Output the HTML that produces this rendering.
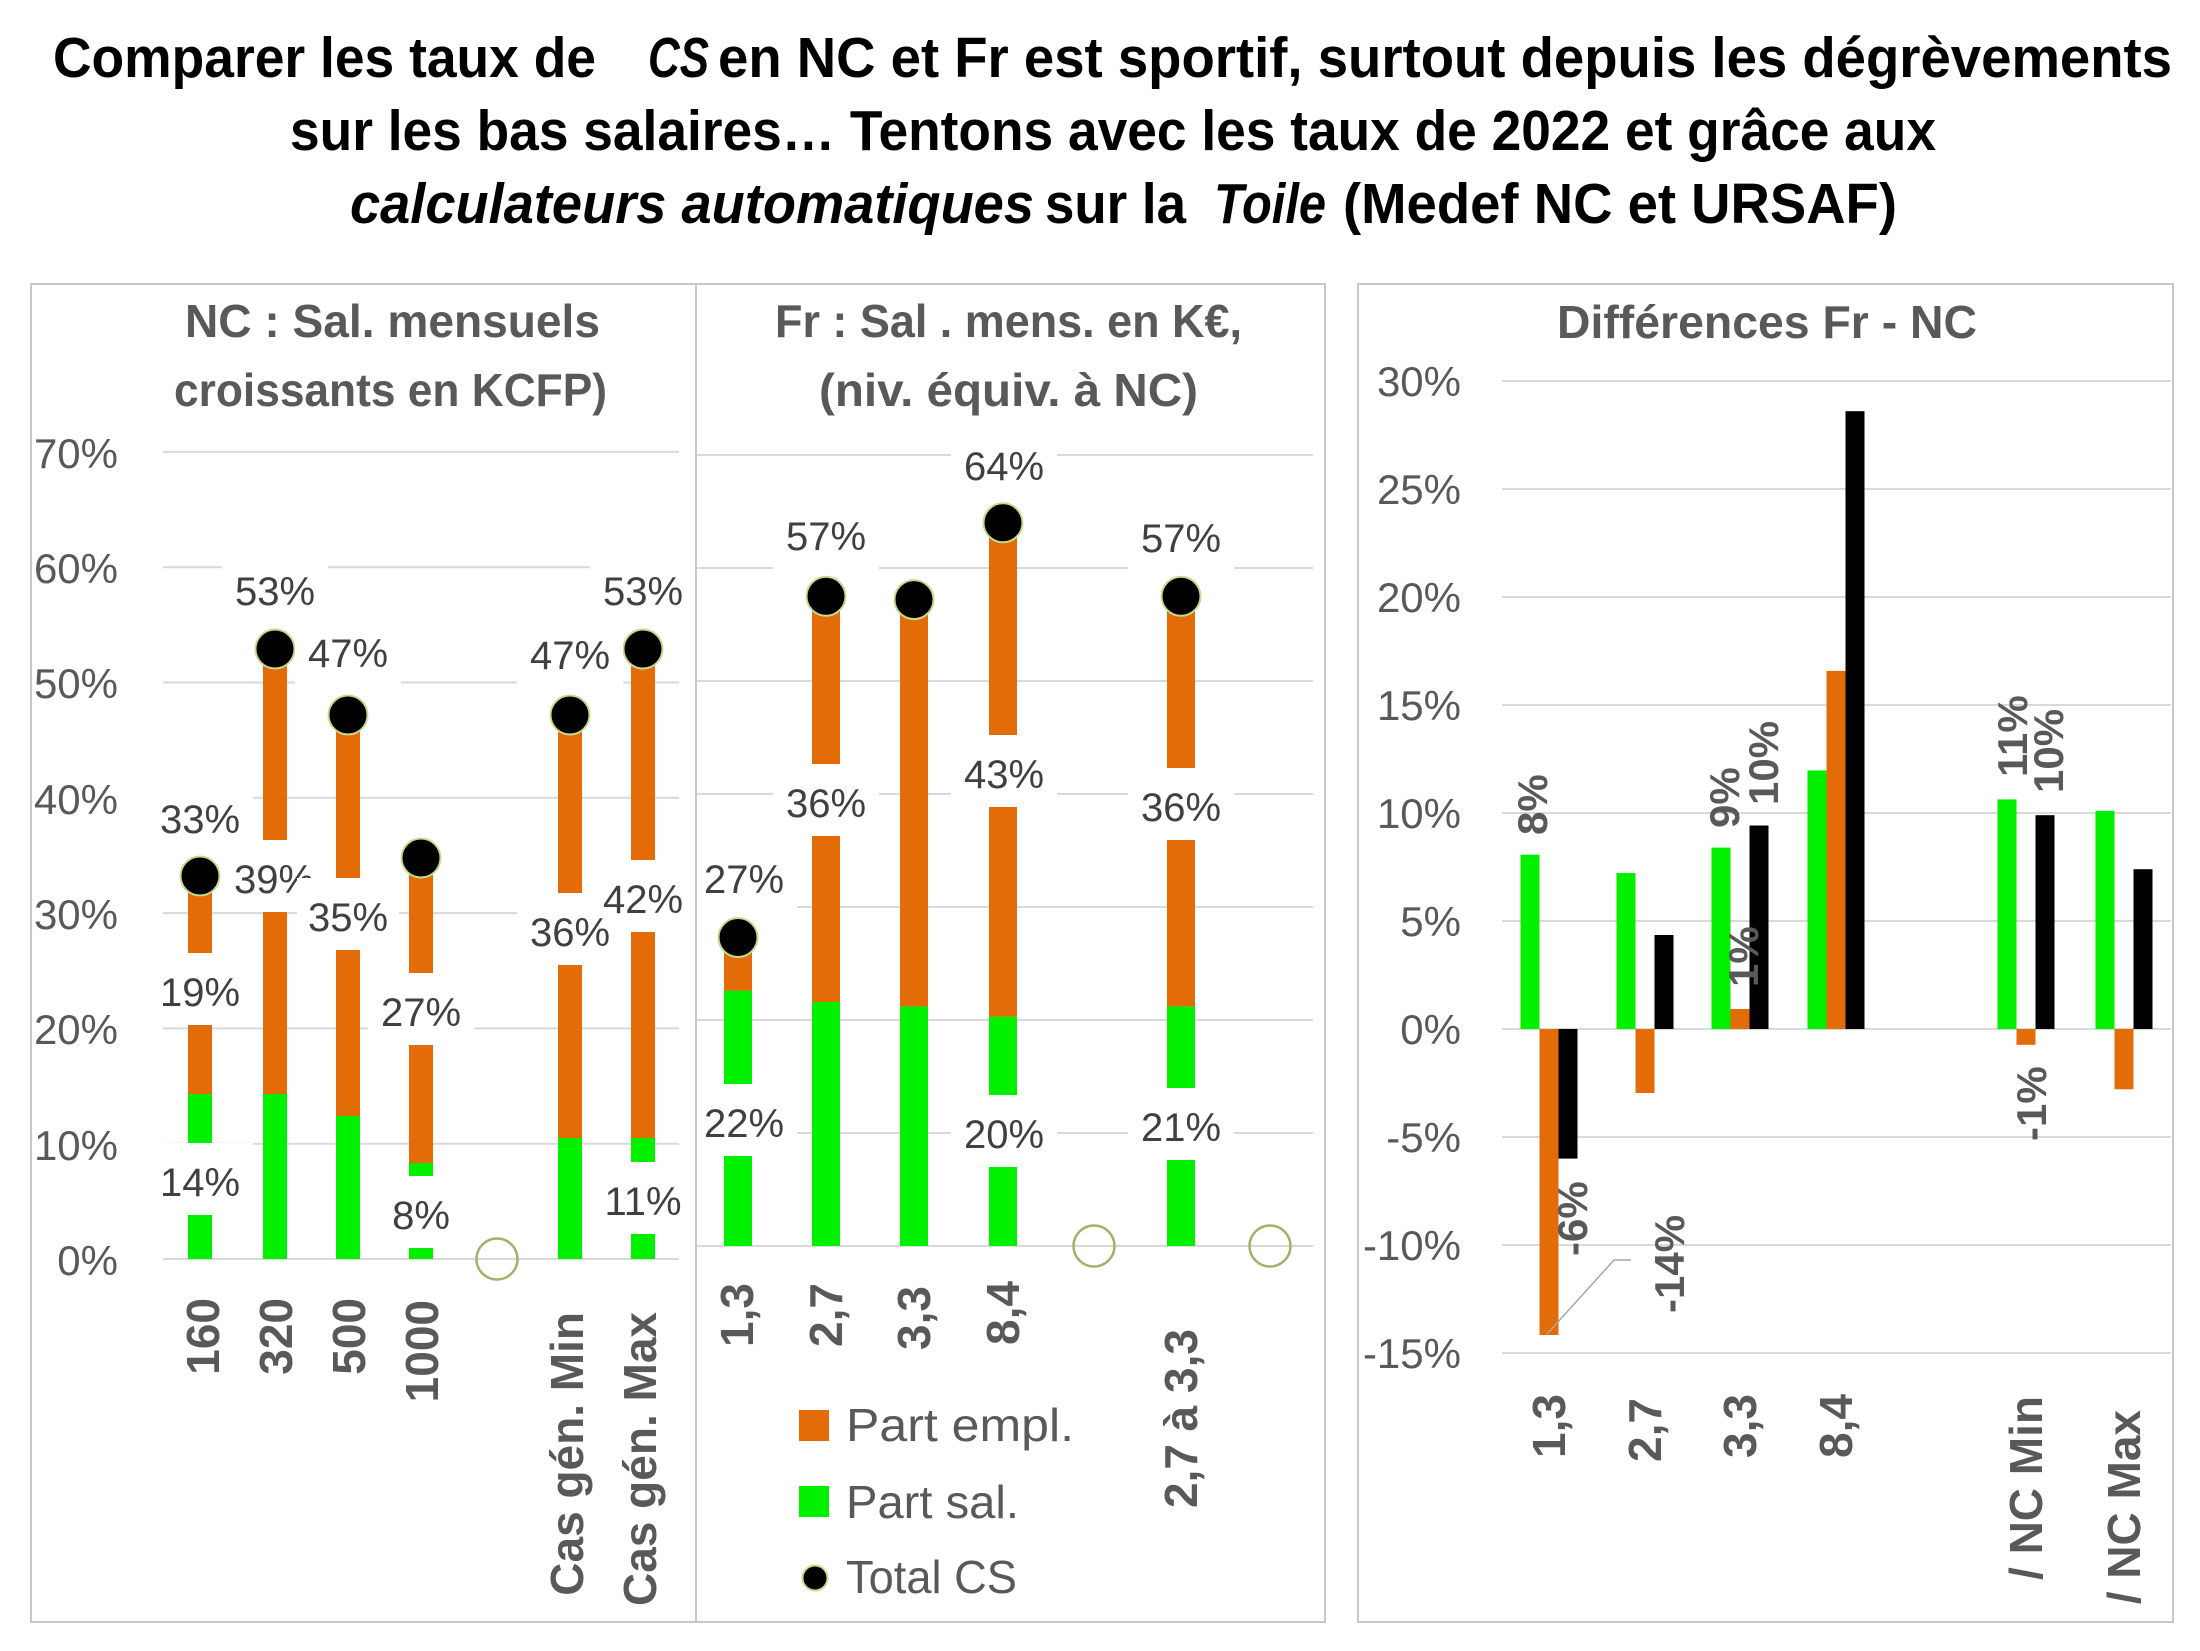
<!DOCTYPE html>
<html>
<head>
<meta charset="utf-8">
<style>
html,body{margin:0;padding:0;background:#fff;}
svg{display:block;}
text{font-family:"Liberation Sans",Arial,sans-serif;}
</style>
</head>
<body>
<svg width="2200" height="1651" viewBox="0 0 2200 1651" xmlns="http://www.w3.org/2000/svg">
<rect x="0" y="0" width="2200" height="1651" fill="#fff"/>

<!-- Main title -->
<g font-weight="bold" font-size="57" fill="#000">
  <text x="53" y="77" textLength="543" lengthAdjust="spacingAndGlyphs">Comparer les taux de</text>
  <text x="648" y="77" textLength="61" lengthAdjust="spacingAndGlyphs" font-style="italic">CS</text>
  <text x="718" y="77" textLength="1454" lengthAdjust="spacingAndGlyphs">en NC et Fr est sportif, surtout depuis les dégrèvements</text>
  <text x="290" y="150" textLength="1646" lengthAdjust="spacingAndGlyphs">sur les bas salaires… Tentons avec les taux de 2022 et grâce aux</text>
  <text x="350" y="223" textLength="684" lengthAdjust="spacingAndGlyphs" font-style="italic">calculateurs automatiques</text>
  <text x="1045" y="223" textLength="141" lengthAdjust="spacingAndGlyphs">sur la</text>
  <text x="1214" y="223" textLength="112" lengthAdjust="spacingAndGlyphs" font-style="italic">Toile</text>
  <text x="1343" y="223" textLength="554" lengthAdjust="spacingAndGlyphs">(Medef NC et URSAF)</text>
</g>

<!-- Panel titles -->
<g font-weight="bold" font-size="46" fill="#595959">
  <text x="185" y="337" textLength="415" lengthAdjust="spacingAndGlyphs">NC : Sal. mensuels</text>
  <text x="174" y="406" textLength="433" lengthAdjust="spacingAndGlyphs">croissants en KCFP)</text>
  <text x="775" y="337" textLength="467" lengthAdjust="spacingAndGlyphs">Fr : Sal . mens. en K€,</text>
  <text x="819" y="406" textLength="379" lengthAdjust="spacingAndGlyphs">(niv. équiv. à NC)</text>
  <text x="1557" y="338" textLength="420" lengthAdjust="spacingAndGlyphs">Différences Fr - NC</text>
</g>

<!-- ===== Panel 1 ===== -->
<g stroke="#D9D9D9" stroke-width="2">
  <line x1="163" x2="679" y1="1259" y2="1259"/>
  <line x1="163" x2="679" y1="1143.7" y2="1143.7"/>
  <line x1="163" x2="679" y1="1028.4" y2="1028.4"/>
  <line x1="163" x2="679" y1="913.1" y2="913.1"/>
  <line x1="163" x2="679" y1="797.8" y2="797.8"/>
  <line x1="163" x2="679" y1="682.5" y2="682.5"/>
  <line x1="163" x2="679" y1="567.2" y2="567.2"/>
  <line x1="163" x2="679" y1="451.9" y2="451.9"/>
</g>
<g font-size="42" fill="#595959" text-anchor="end">
  <text x="118" y="1275">0%</text>
  <text x="118" y="1160">10%</text>
  <text x="118" y="1044">20%</text>
  <text x="118" y="929">30%</text>
  <text x="118" y="814">40%</text>
  <text x="118" y="698">50%</text>
  <text x="118" y="583">60%</text>
  <text x="118" y="468">70%</text>
</g>
<!-- bars P1 -->
<g fill="#00F000">
  <rect x="188" y="1094" width="24" height="165"/>
  <rect x="263" y="1094" width="24" height="165"/>
  <rect x="336" y="1116" width="24" height="143"/>
  <rect x="409" y="1163" width="24" height="96"/>
  <rect x="558" y="1138" width="24" height="121"/>
  <rect x="631" y="1138" width="24" height="121"/>
</g>
<g fill="#E36C09">
  <rect x="188" y="876" width="24" height="218"/>
  <rect x="263" y="649" width="24" height="445"/>
  <rect x="336" y="715" width="24" height="401"/>
  <rect x="409" y="858" width="24" height="305"/>
  <rect x="558" y="715" width="24" height="423"/>
  <rect x="631" y="649" width="24" height="489"/>
</g>
<g fill="#000" stroke="#C4DC8E" stroke-width="2">
  <circle cx="200" cy="876" r="19.5"/>
  <circle cx="275" cy="649" r="19.5"/>
  <circle cx="348" cy="715" r="19.5"/>
  <circle cx="421" cy="858" r="19.5"/>
  <circle cx="570" cy="715" r="19.5"/>
  <circle cx="643" cy="649" r="19.5"/>
</g>
<circle cx="497" cy="1259" r="20.5" fill="none" stroke="#A8AE6A" stroke-width="2.5"/>
<!-- P1 label boxes -->
<g fill="#fff">
  <rect x="147" y="1143" width="106" height="72"/>
  <rect x="147" y="953" width="106" height="72"/>
  <rect x="147" y="780" width="106" height="72"/>
  <rect x="222" y="840" width="106" height="72"/>
  <rect x="222" y="552" width="106" height="72"/>
  <rect x="295" y="614" width="106" height="72"/>
  <rect x="368" y="973" width="106" height="72"/>
  <rect x="378" y="1176" width="86" height="72"/>
  <rect x="590" y="860" width="106" height="72"/>
  <rect x="517" y="893" width="106" height="72"/>
  <rect x="517" y="616" width="106" height="72"/>
  <rect x="590" y="1162" width="106" height="72"/>
  <rect x="590" y="552" width="106" height="72"/>
</g>
<!-- P1 label texts -->
<g font-size="40" fill="#404040" text-anchor="middle">
  <text x="200" y="1196">14%</text>
  <text x="200" y="1006">19%</text>
  <text x="200" y="833">33%</text>
  <text x="274" y="893">39%</text>
  <text x="275" y="605">53%</text>
  <text x="348" y="667">47%</text>
  <text x="421" y="1026">27%</text>
  <text x="421" y="1229">8%</text>
  <text x="643" y="913">42%</text>
  <text x="570" y="946">36%</text>
  <text x="570" y="669">47%</text>
  <text x="643" y="1215">11%</text>
  <text x="643" y="605">53%</text>
  <rect x="297" y="878" width="102" height="72" fill="#fff"/>
  <text x="348" y="931">35%</text>
</g>
<!-- P1 categories -->
<g font-size="46" font-weight="bold" fill="#595959" text-anchor="end">
  <text transform="translate(219,1298) rotate(-90)">160</text>
  <text transform="translate(292,1298) rotate(-90)">320</text>
  <text transform="translate(365,1298) rotate(-90)">500</text>
  <text transform="translate(438,1300) rotate(-90)">1000</text>
  <text transform="translate(583,1312) rotate(-90)">Cas gén. Min</text>
  <text transform="translate(656,1312) rotate(-90)">Cas gén. Max</text>
</g>

<!-- ===== Panel 2 ===== -->
<g stroke="#D9D9D9" stroke-width="2">
  <line x1="697" x2="1313" y1="1246" y2="1246"/>
  <line x1="697" x2="1313" y1="1133" y2="1133"/>
  <line x1="697" x2="1313" y1="1020" y2="1020"/>
  <line x1="697" x2="1313" y1="907" y2="907"/>
  <line x1="697" x2="1313" y1="794" y2="794"/>
  <line x1="697" x2="1313" y1="681" y2="681"/>
  <line x1="697" x2="1313" y1="568" y2="568"/>
  <line x1="697" x2="1313" y1="455" y2="455"/>
</g>
<g fill="#00F000">
  <rect x="724" y="990.6" width="28" height="255.4"/>
  <rect x="812" y="1002" width="28" height="244"/>
  <rect x="900" y="1006.4" width="28" height="239.6"/>
  <rect x="989" y="1016.6" width="28" height="229.4"/>
  <rect x="1167" y="1006.4" width="28" height="239.6"/>
</g>
<g fill="#E36C09">
  <rect x="724" y="937.5" width="28" height="53.1"/>
  <rect x="812" y="596.3" width="28" height="405.7"/>
  <rect x="900" y="599.6" width="28" height="406.8"/>
  <rect x="989" y="522.8" width="28" height="493.8"/>
  <rect x="1167" y="596.3" width="28" height="410.1"/>
</g>
<g fill="#000" stroke="#C4DC8E" stroke-width="2">
  <circle cx="738" cy="937.5" r="19.5"/>
  <circle cx="826" cy="596.3" r="19.5"/>
  <circle cx="914" cy="599.6" r="19.5"/>
  <circle cx="1003" cy="522.8" r="19.5"/>
  <circle cx="1181" cy="596.3" r="19.5"/>
</g>
<g fill="none" stroke="#A8AE6A" stroke-width="2.5">
  <circle cx="1094" cy="1246" r="20.5"/>
  <circle cx="1270" cy="1246" r="20.5"/>
</g>
<g fill="#fff">
  <rect x="691" y="1084" width="106" height="72"/>
  <rect x="691" y="840" width="106" height="72"/>
  <rect x="773" y="497" width="106" height="72"/>
  <rect x="773" y="764" width="106" height="72"/>
  <rect x="951" y="427" width="106" height="72"/>
  <rect x="951" y="735" width="106" height="72"/>
  <rect x="951" y="1095" width="106" height="72"/>
  <rect x="1128" y="499" width="106" height="72"/>
  <rect x="1128" y="768" width="106" height="72"/>
  <rect x="1128" y="1088" width="106" height="72"/>
</g>
<g font-size="40" fill="#404040" text-anchor="middle">
  <text x="744" y="1137">22%</text>
  <text x="744" y="893">27%</text>
  <text x="826" y="550">57%</text>
  <text x="826" y="817">36%</text>
  <text x="1004" y="480">64%</text>
  <text x="1004" y="788">43%</text>
  <text x="1004" y="1148">20%</text>
  <text x="1181" y="552">57%</text>
  <text x="1181" y="821">36%</text>
  <text x="1181" y="1141">21%</text>
</g>
<g font-size="46" font-weight="bold" fill="#595959" text-anchor="end">
  <text transform="translate(753,1283) rotate(-90)">1,3</text>
  <text transform="translate(842,1283) rotate(-90)">2,7</text>
  <text transform="translate(930,1286) rotate(-90)">3,3</text>
  <text transform="translate(1019,1281) rotate(-90)">8,4</text>
  <text transform="translate(1197,1329) rotate(-90)">2,7 à 3,3</text>
</g>
<!-- Legend -->
<rect x="799" y="1410" width="30" height="31" fill="#E36C09"/>
<rect x="799" y="1486" width="30" height="31" fill="#00F000"/>
<circle cx="815" cy="1578" r="12.5" fill="#000" stroke="#C4DC8E" stroke-width="2"/>
<g font-size="46" fill="#595959">
  <text x="846" y="1441" textLength="228" lengthAdjust="spacingAndGlyphs">Part empl.</text>
  <text x="846" y="1518" textLength="173" lengthAdjust="spacingAndGlyphs">Part sal.</text>
  <text x="846" y="1593" textLength="171" lengthAdjust="spacingAndGlyphs">Total CS</text>
</g>

<!-- ===== Panel 3 ===== -->
<g stroke="#D9D9D9" stroke-width="2">
  <line x1="1502" x2="2171" y1="381" y2="381"/>
  <line x1="1502" x2="2171" y1="489" y2="489"/>
  <line x1="1502" x2="2171" y1="597" y2="597"/>
  <line x1="1502" x2="2171" y1="705" y2="705"/>
  <line x1="1502" x2="2171" y1="813" y2="813"/>
  <line x1="1502" x2="2171" y1="921" y2="921"/>
  <line x1="1502" x2="2171" y1="1029" y2="1029"/>
  <line x1="1502" x2="2171" y1="1137" y2="1137"/>
  <line x1="1502" x2="2171" y1="1245" y2="1245"/>
  <line x1="1502" x2="2171" y1="1353" y2="1353"/>
</g>
<g font-size="42" fill="#595959" text-anchor="end">
  <text x="1461" y="396">30%</text>
  <text x="1461" y="504">25%</text>
  <text x="1461" y="612">20%</text>
  <text x="1461" y="720">15%</text>
  <text x="1461" y="828">10%</text>
  <text x="1461" y="936">5%</text>
  <text x="1461" y="1044">0%</text>
  <text x="1461" y="1152">-5%</text>
  <text x="1461" y="1260">-10%</text>
  <text x="1461" y="1368">-15%</text>
</g>
<g fill="#00F000">
  <rect x="1520.5" y="854.7" width="19" height="174.3"/>
  <rect x="1616.5" y="873" width="19" height="156"/>
  <rect x="1711.5" y="847.6" width="19" height="181.4"/>
  <rect x="1807.5" y="770.4" width="19" height="258.6"/>
  <rect x="1997.5" y="799.4" width="19" height="229.6"/>
  <rect x="2095.5" y="810.8" width="19" height="218.2"/>
</g>
<g fill="#E36C09">
  <rect x="1539.5" y="1029" width="19" height="306"/>
  <rect x="1635.5" y="1029" width="19" height="64"/>
  <rect x="1730.5" y="1009" width="19" height="20"/>
  <rect x="1826.5" y="670.9" width="19" height="358.1"/>
  <rect x="2016.5" y="1029" width="19" height="15.8"/>
  <rect x="2114.5" y="1029" width="19" height="60.3"/>
</g>
<g fill="#000">
  <rect x="1558.5" y="1029" width="19" height="129.6"/>
  <rect x="1654.5" y="935" width="19" height="94"/>
  <rect x="1749.5" y="825.5" width="19" height="203.5"/>
  <rect x="1845.5" y="411.2" width="19" height="617.8"/>
  <rect x="2035.5" y="815.2" width="19" height="213.8"/>
  <rect x="2133.5" y="869.2" width="19" height="159.8"/>
</g>
<polyline points="1547,1334 1614,1260 1631,1260" fill="none" stroke="#A6A6A6" stroke-width="1.5"/>
<g font-size="42" font-weight="bold" fill="#595959">
  <text transform="translate(1547,835) rotate(-90)">8%</text>
  <text transform="translate(1739,828) rotate(-90)">9%</text>
  <text transform="translate(1778,805) rotate(-90)">10%</text>
  <text transform="translate(1758,987) rotate(-90)">1%</text>
  <text transform="translate(2027,777) rotate(-90)">11%</text>
  <text transform="translate(2063,793) rotate(-90)">10%</text>
  <text transform="translate(1587,1256) rotate(-90)">-6%</text>
  <text transform="translate(1684,1313) rotate(-90)">-14%</text>
  <text transform="translate(2046,1141) rotate(-90)">-1%</text>
</g>
<g font-size="46" font-weight="bold" fill="#595959" text-anchor="end">
  <text transform="translate(1565,1394) rotate(-90)">1,3</text>
  <text transform="translate(1661,1398) rotate(-90)">2,7</text>
  <text transform="translate(1756,1394) rotate(-90)">3,3</text>
  <text transform="translate(1852,1394) rotate(-90)">8,4</text>
  <text transform="translate(2042,1396) rotate(-90)">/ NC Min</text>
  <text transform="translate(2140,1410) rotate(-90)">/ NC Max</text>
</g>

<!-- Panel borders (drawn last) -->
<g fill="none" stroke="#C8C8C8" stroke-width="2">
  <rect x="31" y="284" width="665" height="1338"/>
  <rect x="696" y="284" width="629" height="1338"/>
  <rect x="1358" y="284" width="815" height="1338"/>
</g>
</svg>
</body>
</html>
